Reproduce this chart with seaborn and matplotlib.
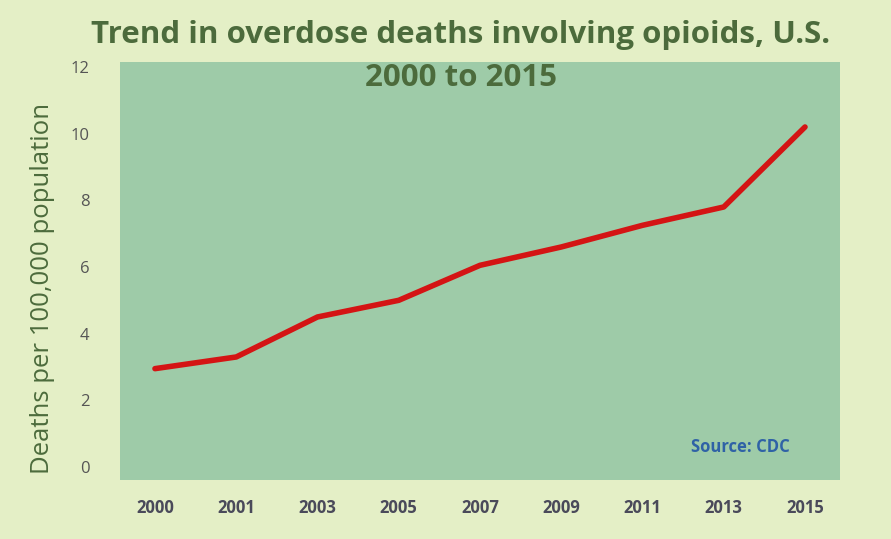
import matplotlib
matplotlib.use("Agg")
import matplotlib.pyplot as plt
import seaborn as sns
import pandas as pd

years = ["2000", "2001", "2003", "2005", "2007", "2009", "2011", "2013", "2015"]
rates = [2.95, 3.3, 4.5, 5.0, 6.05, 6.6, 7.25, 7.8, 10.2]
y_ticks = [0, 2, 4, 6, 8, 10, 12]

sns.set_theme(style="white")
plt.rcParams["font.family"] = ["Open Sans", "DejaVu Sans"]

df = pd.DataFrame({"year": years, "rate": rates, "pos": range(len(years))})

fig = plt.figure(figsize=(8.91, 5.39), dpi=100)
fig.patch.set_facecolor("#e4efc6")
ax = fig.add_axes([0.1347, 0.1095, 0.808, 0.7755])
ax.set_facecolor("#9ecba8")

sns.lineplot(data=df, x="pos", y="rate", ax=ax, color="#d41414", linewidth=4.0)

ax.set_xlim(-0.43, 8.43)
ax.set_ylim(-0.39, 12.15)
ax.set_xticks(range(len(years)))
ax.set_xticklabels(years)
ax.set_yticks(y_ticks)
ax.set_yticklabels([str(v) for v in y_ticks])
for s in ax.spines.values():
    s.set_visible(False)
ax.tick_params(axis="x", labelsize=12, colors="#4a4a5a", pad=14, length=0)
ax.tick_params(axis="y", labelsize=12, colors="#555555", pad=22, length=0)
for lab in ax.get_xticklabels():
    lab.set_fontweight("bold")
ax.set_xlabel("")
ax.set_ylabel("")

fig.text(43 / 891, 1 - 288 / 539, "Deaths per 100,000 population", rotation=90,
         ha="center", va="center", fontsize=18.5, color="#4c6b3c")

fig.text(0.517, 0.935, "Trend in overdose deaths involving opioids, U.S.",
         ha="center", va="center", fontsize=22.5, color="#4c6b3c", fontweight="bold")
fig.text(0.517, 0.855, "2000 to 2015",
         ha="center", va="center", fontsize=22.5, color="#4c6b3c", fontweight="bold")

ax.text(0.93, 0.08, "Source: CDC", transform=ax.transAxes, ha="right", va="center",
        fontsize=12, color="#2f62a6", fontweight="bold")

fig.savefig("out.png", dpi=100, facecolor=fig.get_facecolor())
